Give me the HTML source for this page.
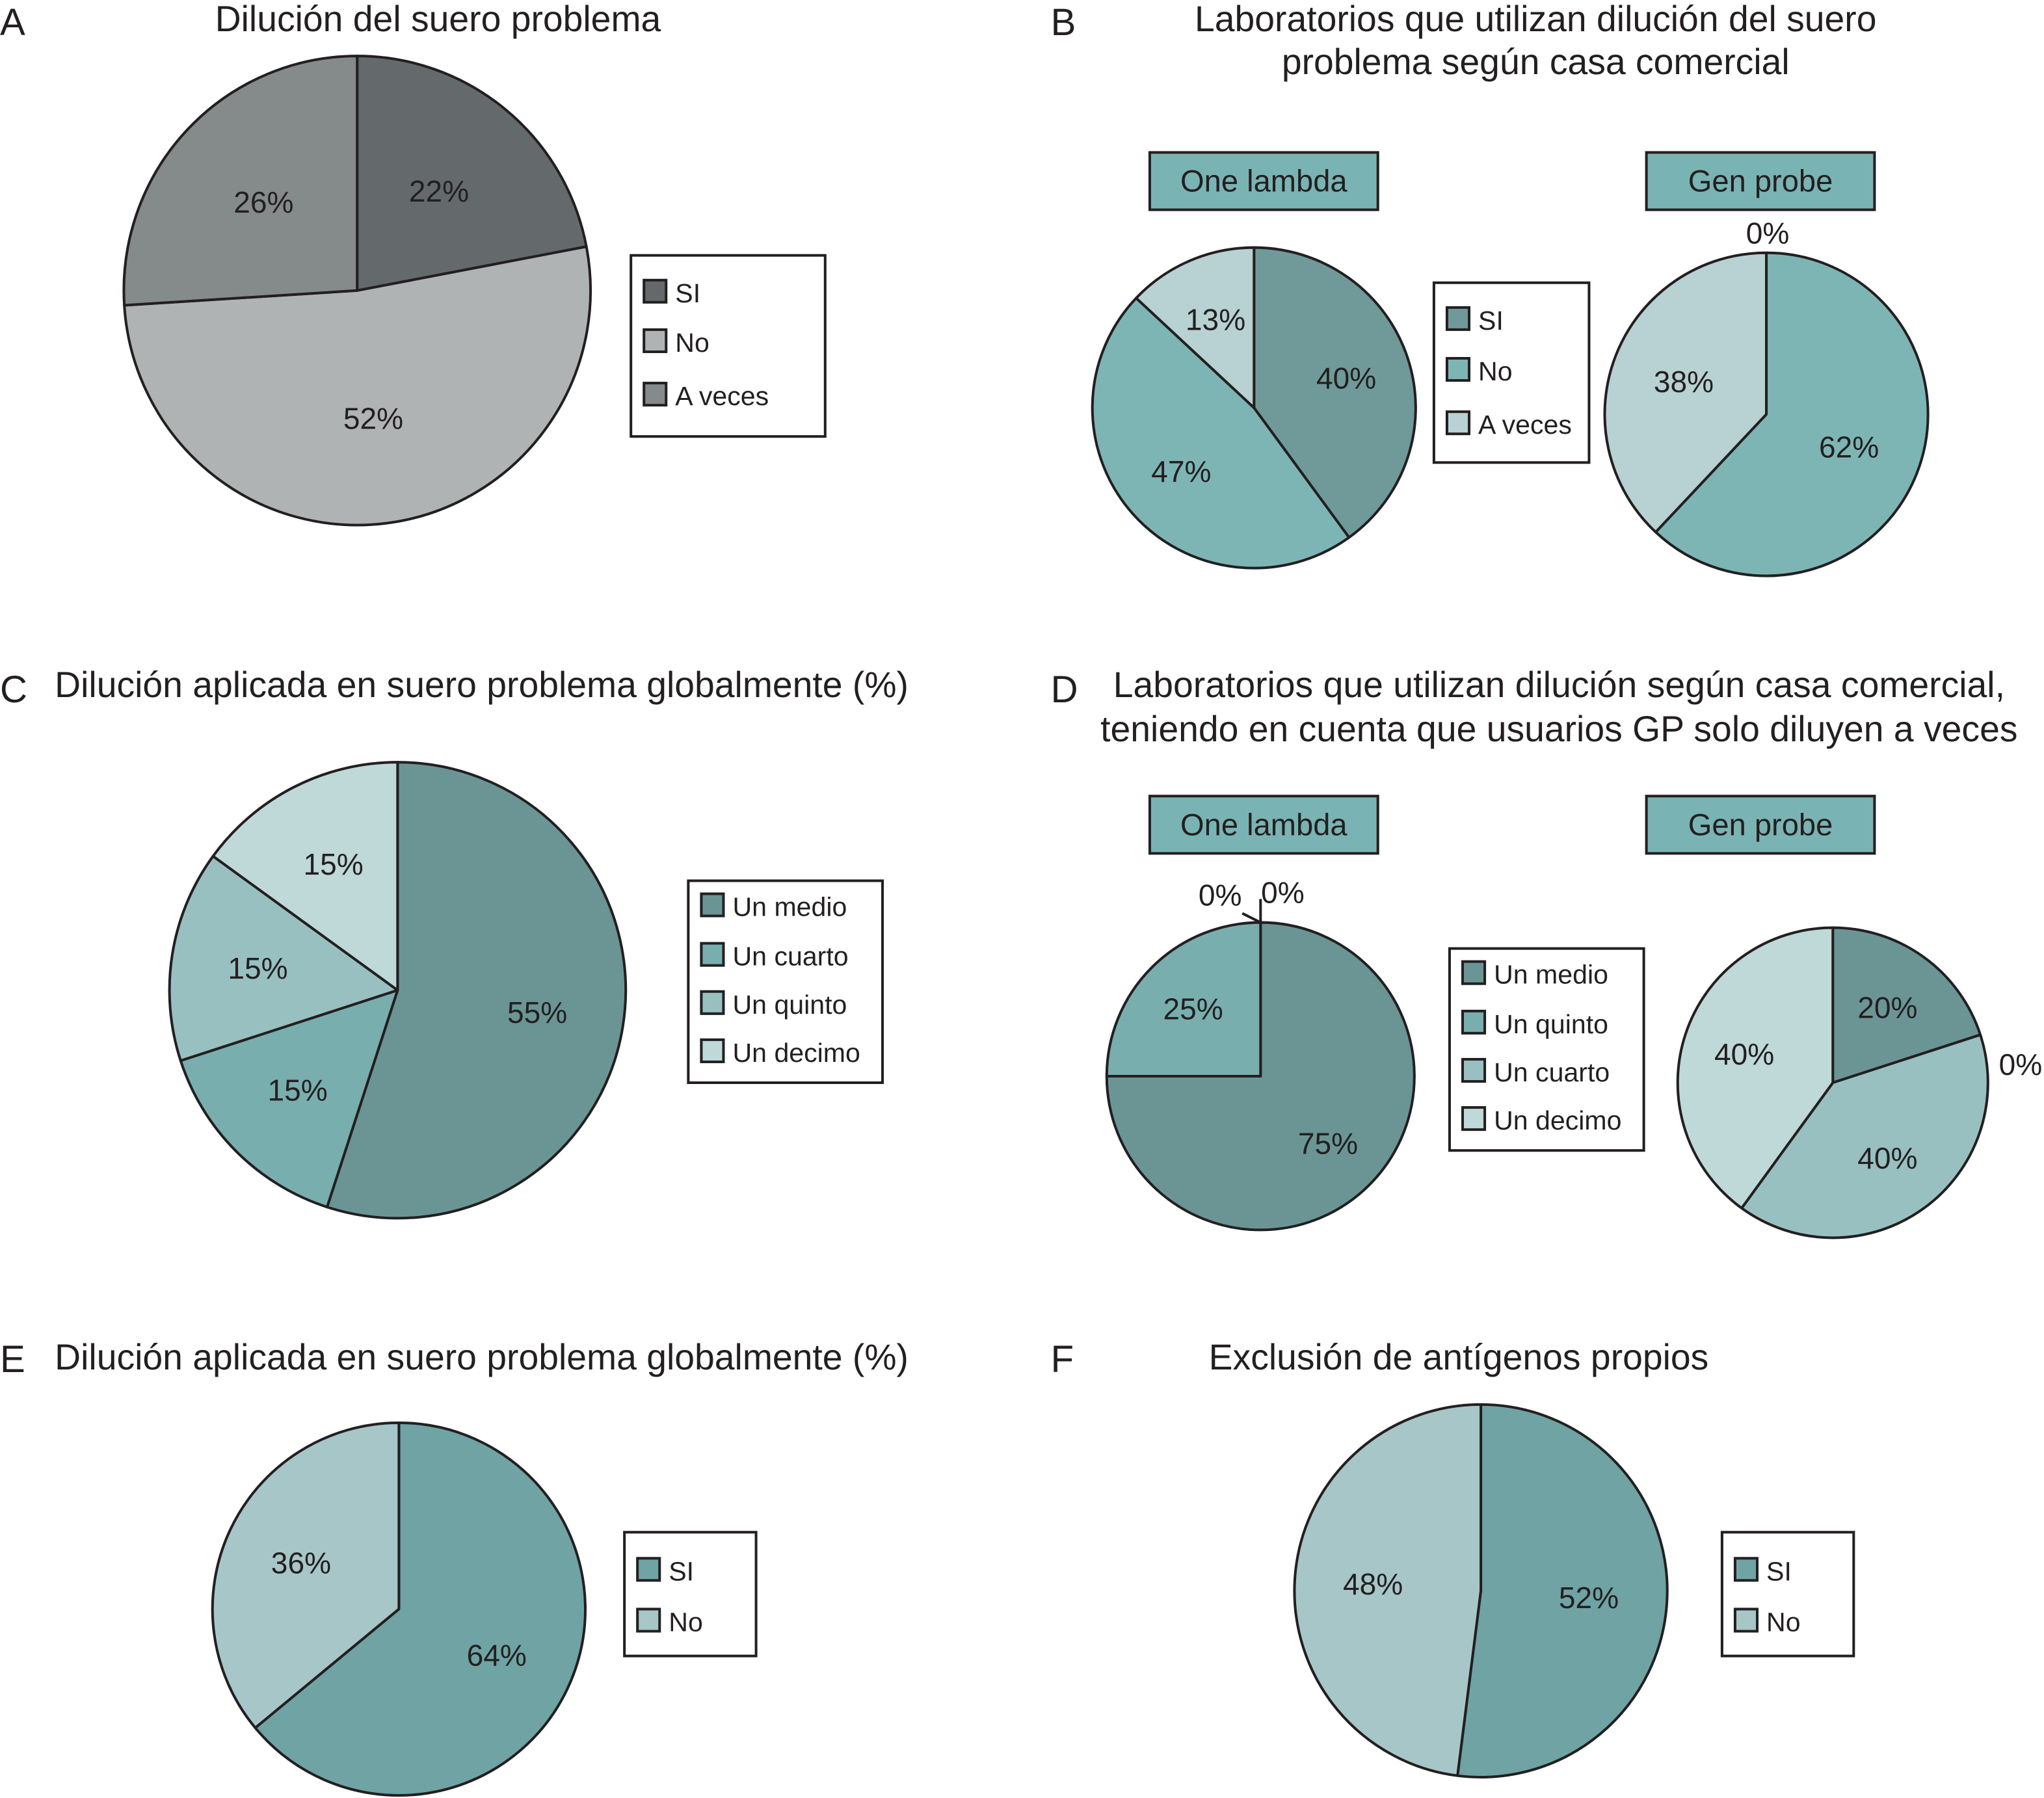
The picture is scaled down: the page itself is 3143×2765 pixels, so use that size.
<!DOCTYPE html>
<html><head><meta charset="utf-8"><style>
html,body{margin:0;padding:0;background:#fff}
svg{display:block}
text{font-family:"Liberation Sans",sans-serif;fill:#231f20}
</style></head><body>
<svg id="fig" width="3143" height="2765" viewBox="0 0 1568 1380" preserveAspectRatio="none" xmlns="http://www.w3.org/2000/svg">
<g font-size="27.6">
<text x="0" y="27" font-size="29">A</text>
<text x="336" y="24" text-anchor="middle">Dilución del suero problema</text>
<text x="806" y="27" font-size="29">B</text>
<text x="1178" y="24" text-anchor="middle">Laboratorios que utilizan dilución del suero</text>
<text x="1178" y="57" text-anchor="middle">problema según casa comercial</text>
<text x="0" y="539" font-size="29">C</text>
<text x="42" y="535">Dilución aplicada en suero problema globalmente (%)</text>
<text x="806" y="539" font-size="29">D</text>
<text x="1196" y="535" text-anchor="middle">Laboratorios que utilizan dilución según casa comercial,</text>
<text x="1196" y="569" text-anchor="middle">teniendo en cuenta que usuarios GP solo diluyen a veces</text>
<text x="0" y="1053" font-size="29">E</text>
<text x="42" y="1051">Dilución aplicada en suero problema globalmente (%)</text>
<text x="806" y="1053" font-size="29">F</text>
<text x="1119" y="1051" text-anchor="middle">Exclusión de antígenos propios</text>
</g>
</svg>
<script>
const catA=["SI","No","A veces"];const valA=[22,52,26];
const catB=["SI","No","A veces"];const valBOL=[40,47,13];const valBGP=[0,62,38];
const catC=["Un medio","Un cuarto","Un quinto","Un decimo"];const valC=[55,15,15,15];
const catD=["Un medio","Un quinto","Un cuarto","Un decimo"];const valDOL=[75,25,0,0];const valDGP=[20,0,40,40];
const catE=["SI","No"];const valE=[64,36];
const catF=["SI","No"];const valF=[52,48];

const NS="http://www.w3.org/2000/svg";const svg=document.getElementById('fig');
function mk(tag,attrs,parent){const e=document.createElementNS(NS,tag);for(const k in attrs)e.setAttribute(k,attrs[k]);(parent||svg).appendChild(e);return e;}
function pie(name,vals,cats,colors,cx,cy,rx,ry,lf){
  const g=mk('g',{});
  
  
  const tot=vals.reduce((a,b)=>a+b,0);let acc=0;
  const pt=(f,r)=>{const a=f*2*Math.PI;return [cx+rx*r*Math.sin(a),cy-ry*r*Math.cos(a)];};
  vals.forEach((v,i)=>{
    const f0=acc/tot,f1=(acc+v)/tot;acc+=v;
    if(v<=0)return;
    let el;
    if(v>=tot){el=mk('ellipse',{cx:cx,cy:cy,rx:rx,ry:ry,fill:colors[i],stroke:'#231f20','stroke-width':2},g);}
    else{const p0=pt(f0,1),p1=pt(f1,1);const large=(f1-f0)>0.5?1:0;
      el=mk('path',{d:`M${cx},${cy}L${p0[0]},${p0[1]}A${rx},${ry} 0 ${large} 1 ${p1[0]},${p1[1]}Z`,fill:colors[i],stroke:'#231f20','stroke-width':2,'stroke-linejoin':'round'},g);}
    
    
  });
  acc=0;
  vals.forEach((v,i)=>{const fm=(acc+v/2)/tot;acc+=v;if(v<=0)return;
    const p=pt(fm,lf);const t=mk('text',{x:p[0],y:p[1]+8,'text-anchor':'middle','font-size':23},g);t.textContent=v+'%';
    
    });
  return g;
}
function legend(name,cats,colors,x,y,w,h,rowY){
  const g=mk('g',{});
  
  
  mk('rect',{x:x,y:y,width:w,height:h,fill:'#fff',stroke:'#231f20','stroke-width':2},g);
  cats.forEach((c,i)=>{const yy=y+rowY[i];
    const s=mk('rect',{x:x+10,y:yy-9,width:17,height:17,fill:colors[i],stroke:'#231f20','stroke-width':2},g);
    
    
    const t=mk('text',{x:x+34,y:yy+8,'font-size':20.5},g);t.textContent=c;
    
    });
}
function header(name,label,x,y){
  const g=mk('g',{});
  
  
  mk('rect',{x:x,y:y,width:175,height:44,fill:'#7ab3b3',stroke:'#231f20','stroke-width':2},g);
  const t=mk('text',{x:x+87.5,y:y+30,'text-anchor':'middle','font-size':23.5},g);t.textContent=label;
}
// A
const colA=['#646a6b','#b0b3b4','#858a8b'];
pie('pie-a',valA,catA,colA,274,223,179,180,0.55);
legend('legend-a',catA,colA,484,196,149,139,[28,66,107]);
// B
const colB=['#6f9a99','#7db5b5','#b8d1d2'];
header('header-b-one-lambda','One lambda',882,117);header('header-b-gen-probe','Gen probe',1263,117);
pie('pie-b-one-lambda',valBOL,catB,colB,962,313,124,123,0.6);
pie('pie-b-gen-probe',valBGP,catB,colB,1355,318,124,124,0.55);
legend('legend-b',catB,colB,1100,217,119,138,[28,67,108]);
{const t=mk('text',{x:1356,y:187,'text-anchor':'middle','font-size':23});t.textContent=valBGP[0]+'%';

}
// C
const colC=['#6b9595','#78aeae','#99c0c1','#bfd8d8'];
pie('pie-c',valC,catC,colC,305,760,175,175,0.62);
legend('legend-c',catC,colC,528,676,149,155,[19,57,94,131]);
// D
const colD=['#6b9595','#78aeae','#99c0c1','#bfd8d8'];
header('header-d-one-lambda','One lambda',882,611);header('header-d-gen-probe','Gen probe',1263,611);
pie('pie-d-one-lambda',valDOL,catD,colD,967,826,118,118,0.62);
pie('pie-d-gen-probe',valDGP,catD,colD,1406,831,119,119,0.6);
legend('legend-d',catD,colD,1112,728,149,155,[19,57,94,131]);
[[936,695],[984,693],[1550,825]].forEach((p,i)=>{const t=mk('text',{x:p[0],y:p[1],'text-anchor':'middle','font-size':23});
t.textContent=(i<2?valDOL[2+i]:valDGP[1])+'%';

});
mk('path',{d:'M967,708L967,690M967,708L953,701',stroke:'#231f20','stroke-width':2,fill:'none'});
// E
const colE=['#6fa3a4','#a7c6c8'];
pie('pie-e',valE,catE,colE,306,1235,143,143,0.58);
legend('legend-e',catE,colE,479,1176,101,95,[29,68]);
// F
pie('pie-f',valF,catF,colE,1136,1221,143,143,0.58);
legend('legend-f',catF,colE,1321,1176,101,95,[29,68]);
</script>
</body></html>
